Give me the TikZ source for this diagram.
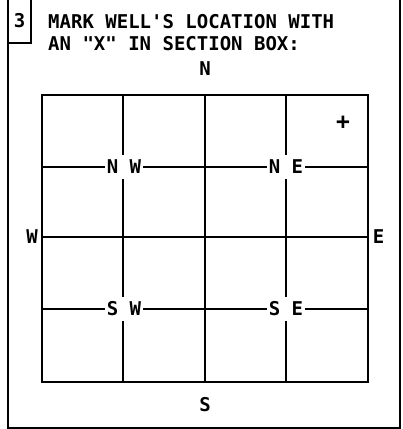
\documentclass[tikz,border=0pt]{standalone}
\usepackage{fontspec}
\setmonofont{DejaVu Sans Mono}
\usepackage{tikz}
\usetikzlibrary{positioning}
\tikzset{
  frame/.style={line width=1.3pt,black},
  gridl/.style={line width=1.3pt,black},
  lbl/.style={font=\ttfamily\bfseries\fontsize{19}{22}\selectfont,inner sep=0pt},
  dir/.style={lbl,fill=white,inner xsep=1.5pt,inner ysep=5pt},
  ttl/.style={lbl,anchor=base west,align=left},
}
\begin{document}
\begin{tikzpicture}[x=1pt,y=-1pt]
  \useasboundingbox (0,0) rectangle (403,429);
  % outer frame and item box
  \draw[frame] (8,0) -- (8,428) -- (400,428) -- (400,0);
  \draw[frame] (31,0) -- (31,43) -- (8,43);
  \node[lbl] (num) at (19.5,21) {3};
  \node[ttl] (title1) at (48,28) {MARK WELL'S LOCATION WITH};
  \node[ttl] (title2) at (48,50) {AN "X" IN SECTION BOX:};
  % section grid
  \draw[gridl] (42,95) rectangle (368,382);
  \foreach \x in {123,205,286}
    \draw[gridl] (\x,95) -- (\x,382);
  \foreach \y in {167,237,309}
    \draw[gridl] (42,\y) -- (368,\y);
  % compass labels
  \node[lbl] (north) at (205,69) {N};
  \node[lbl] (south) at (205,405) {S};
  \node[lbl] (west) at (32,237) {W};
  \node[lbl] (east) at (378.5,237) {E};
  \node[dir] (nw) at (124,167) {N W};
  \node[dir] (ne) at (286,167) {N E};
  \node[dir] (sw) at (124,309) {S W};
  \node[dir] (se) at (286,309) {S E};
  % well mark
  \node[lbl,font=\ttfamily\bfseries\fontsize{23}{23}\selectfont] (well) at (343,123) {+};
\end{tikzpicture}
\end{document}
